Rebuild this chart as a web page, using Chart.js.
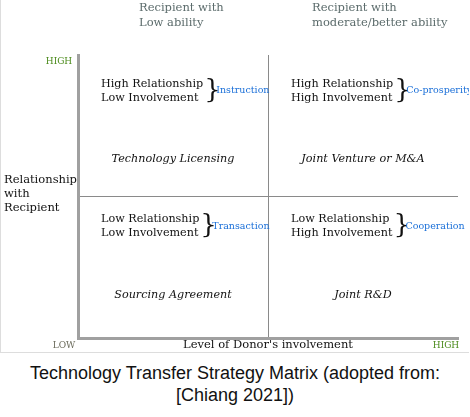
<!DOCTYPE html>
<html>
<head>
<meta charset="UTF-8">
<script src="https://cdn.jsdelivr.net/npm/chart.js"></script>
<style>
body { margin: 0; background: #fff; }
#wrap { position: relative; width: 468px; height: 352px; border-left: 1px solid #ddd; border-bottom: 1px solid #ddd; }
#caption { width: 470px; text-align: center; font-family: 'Liberation Sans', Arial, sans-serif; font-size: 18px; color: #111; line-height: 22px; margin-top: 9px; }
</style>
</head>
<body>
<div id="wrap"><canvas id="chart"></canvas></div>
<div id="caption">Technology Transfer Strategy Matrix (adopted from:<br>[Chiang 2021])</div>
<script>
// quadrant cells (x, y in matrix units), their texts
const cellX = [0.5, 1.5, 0.5, 1.5];
const cellY = [1.5, 1.5, 0.5, 0.5];
const cellLines = [
  ['High Relationship', 'Low Involvement'],
  ['High Relationship', 'High Involvement'],
  ['Low Relationship', 'Low Involvement'],
  ['Low Relationship', 'High Involvement']
];
const cellTypes = ['Instruction', 'Co-prosperity', 'Transaction', 'Cooperation'];
const cellExamples = ['Technology Licensing', 'Joint Venture or M&A', 'Sourcing Agreement', 'Joint R&D'];
const columnHeaders = [['Recipient with', 'Low ability'], ['Recipient with', 'moderate/better ability']];

const serif = "'DejaVu Serif', 'Liberation Serif', serif";

const labelsPlugin = {
  id: 'labels',
  afterDraw(chart) {
    const c = chart.ctx, xs = chart.scales.x, ys = chart.scales.y;
    c.save();
    c.textBaseline = 'middle';
    // column headers
    c.fillStyle = '#5b6b6b';
    c.font = '11.5px ' + serif;
    c.textAlign = 'left';
    columnHeaders.forEach((h, i) => {
      const x = xs.getPixelForValue(i) + (i === 0 ? 61 : 44);
      h.forEach((t, j) => c.fillText(t, x, 8 + j * 15));
    });
    // cells
    cellLines.forEach((lines, i) => {
      const cx = xs.getPixelForValue(cellX[i]);
      const cy = ys.getPixelForValue(cellY[i]);
      const upper = cellY[i] > 1;
      const top = cy + (upper ? -42 : -48);
      c.font = '11.2px ' + serif;
      c.fillStyle = '#111';
      c.textAlign = 'left';
      const w = Math.max(...lines.map(l => c.measureText(l).width));
      const x0 = cx - 72;
      lines.forEach((l, j) => c.fillText(l, x0, top + j * 14));
      c.font = '26px ' + serif;
      c.fillText('}', x0 + w + 1, top + 7);
      c.font = '9.5px ' + serif;
      c.fillStyle = '#1a6fd8';
      c.fillText(cellTypes[i], x0 + w + 13, top + 7);
      c.font = 'italic 11.2px ' + serif;
      c.fillStyle = '#111';
      c.textAlign = 'center';
      c.fillText(cellExamples[i], cx, cy + (upper ? 33 : 28));
    });
    // axis labels
    c.font = '11.5px ' + serif;
    c.fillStyle = '#111';
    c.textAlign = 'left';
    ['Relationship', 'with', 'Recipient'].forEach((t, j) => c.fillText(t, 3, 180 + j * 14));
    c.textAlign = 'center';
    c.fillText("Level of Donor's involvement", 267, 345);
    c.font = '9px ' + serif;
    c.fillStyle = '#4a8a1a';
    c.fillText('HIGH', 58, 62);
    c.fillText('HIGH', 445, 346);
    c.fillStyle = '#6b6b5b';
    c.fillText('LOW', 63, 346);
    c.restore();
  }
};

new Chart(document.getElementById('chart'), {
  type: 'scatter',
  data: { datasets: [{ data: [], pointRadius: 0 }] },
  options: {
    responsive: true,
    maintainAspectRatio: false,
    animation: false,
    layout: { padding: { left: 77, top: 55, right: 11, bottom: 14 } },
    plugins: { legend: { display: false }, tooltip: { enabled: false } },
    scales: {
      x: {
        min: 0, max: 2,
        ticks: { display: false, stepSize: 1 },
        grid: { color: ctx => ctx.tick.value === 1 ? '#8a8a8a' : 'transparent', lineWidth: 1, drawTicks: false },
        border: { color: '#a0a0a0', width: 3 }
      },
      y: {
        min: 0, max: 2,
        ticks: { display: false, stepSize: 1 },
        grid: { color: ctx => ctx.tick.value === 1 ? '#8a8a8a' : 'transparent', lineWidth: 1, drawTicks: false },
        border: { color: '#a0a0a0', width: 3 }
      }
    }
  },
  plugins: [labelsPlugin]
});
</script>
</body>
</html>
